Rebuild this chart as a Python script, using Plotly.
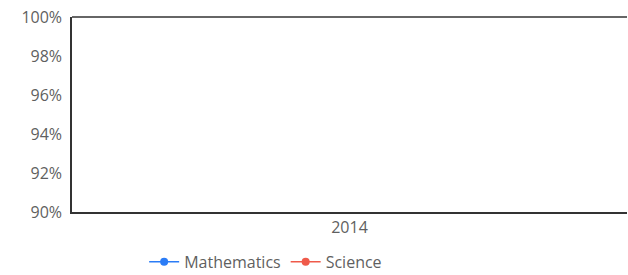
import plotly.graph_objects as go

categories = ["2014"]
math_values = [None]
science_values = [None]
tick_vals = [0.90, 0.92, 0.94, 0.96, 0.98, 1.00]
tick_text = ["90%", "92%", "94%", "96%", "98%", "100%"]

fig = go.Figure()
fig.add_trace(go.Scatter(x=categories, y=math_values, name="Mathematics", mode="lines+markers",
                         line=dict(color="#2b7cf6", width=1.5), marker=dict(size=8, color="#2b7cf6")))
fig.add_trace(go.Scatter(x=categories, y=science_values, name="Science", mode="lines+markers",
                         line=dict(color="#ef5a4a", width=1.5), marker=dict(size=8, color="#ef5a4a")))

font_fam = "Open Sans, sans-serif"
fig.update_layout(
    width=628, height=275,
    margin=dict(l=72, r=1, t=17, b=63, autoexpand=False),
    paper_bgcolor="white", plot_bgcolor="white",
    font=dict(family=font_fam, size=16, color="#5f5f5f"),
    showlegend=True,
    legend=dict(orientation="h", x=0.13, xanchor="left", y=-0.256, yanchor="middle",
                font=dict(size=16, color="#5f5f5f"), itemwidth=30, tracegroupgap=0,
                bgcolor="rgba(0,0,0,0)"),
    xaxis=dict(type="category", showgrid=False, zeroline=False, showline=True,
               linecolor="#333333", linewidth=1.5, mirror=False, ticks="",
               tickfont=dict(size=16, color="#5f5f5f"), fixedrange=True),
    yaxis=dict(range=[0.90, 1.00], tickvals=tick_vals, ticktext=tick_text,
               showgrid=False, zeroline=False, showline=True, linecolor="#333333",
               linewidth=1.5, ticks="", ticklabelstandoff=5,
               tickfont=dict(size=16, color="#5f5f5f")),
    shapes=[dict(type="line", xref="paper", yref="paper", x0=0, x1=1, y0=1, y1=1,
                 line=dict(color="#333333", width=1.5))],
)
fig.write_html("out.html", config={"displayModeBar": False},
               post_script="document.body.style.margin='0';document.body.style.padding='0';document.body.style.overflow='hidden';")
